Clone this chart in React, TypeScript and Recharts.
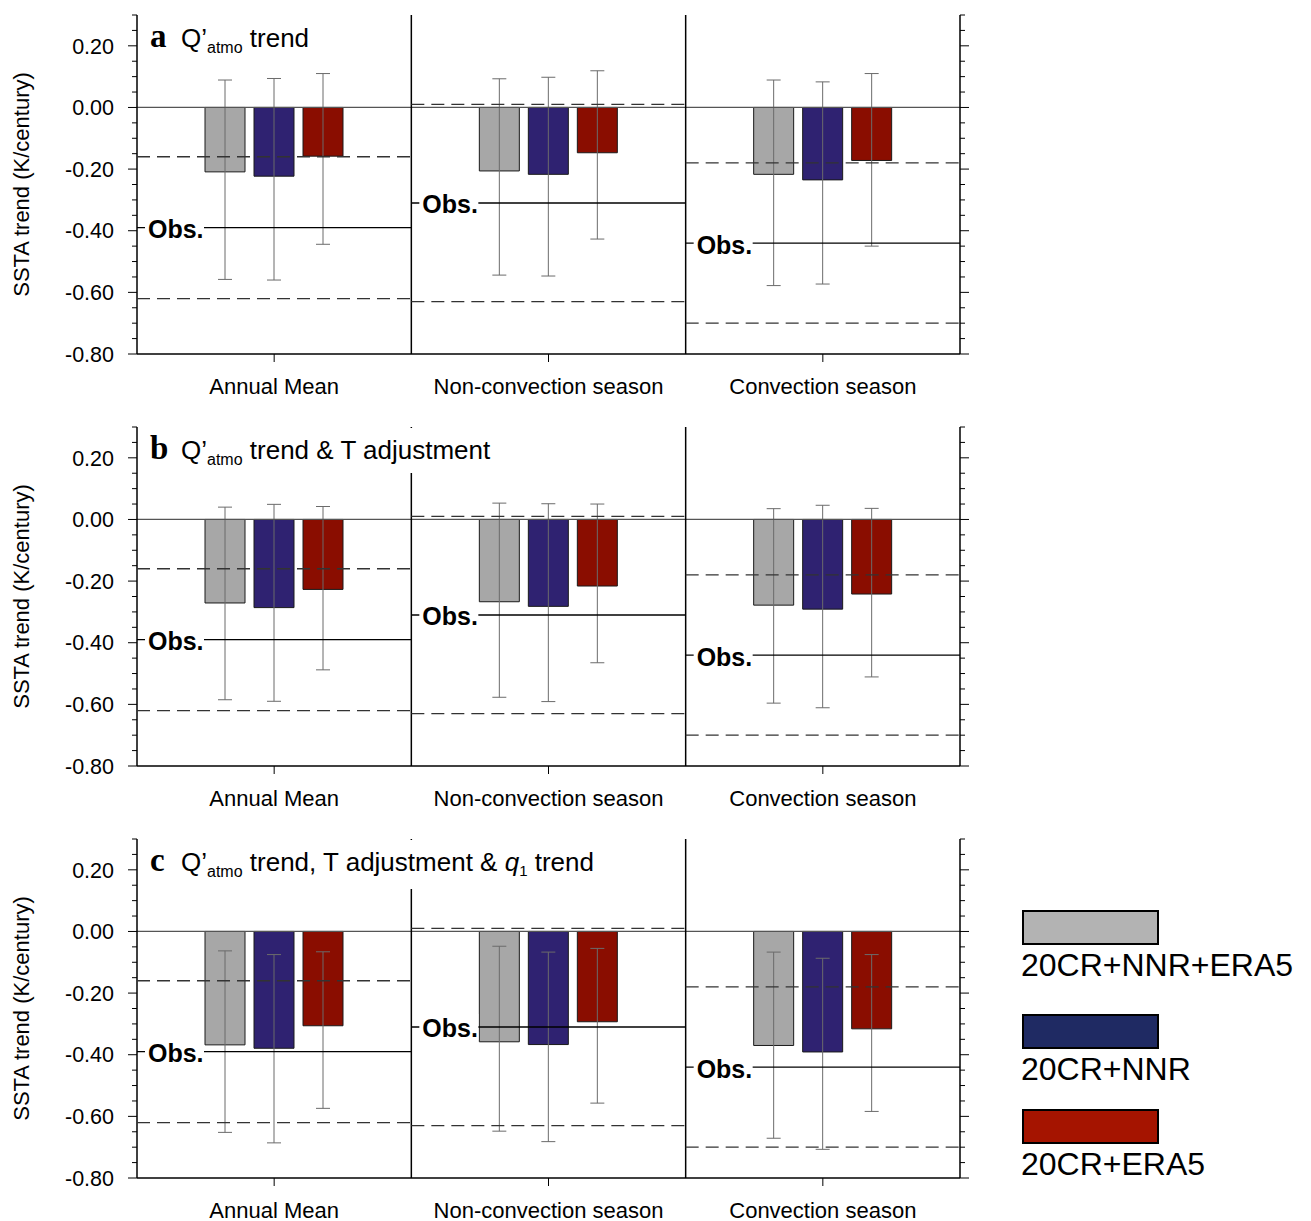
import React from 'react';
import { BarChart, Bar, XAxis, YAxis, ErrorBar, ReferenceLine, ReferenceArea } from 'recharts';

const FONT = '"Liberation Sans", Arial, Helvetica, sans-serif';
const SERIF = '"Liberation Serif", "Times New Roman", serif';

const categories = ['Annual Mean', 'Non-convection season', 'Convection season'];
const seriesNames = ['20CR+NNR+ERA5', '20CR+NNR', '20CR+ERA5'];
const barColors = ['#a7a7a7', '#2f2271', '#8a0d00'];
const legendColors = ['#b3b3b3', '#1f2a63', '#a51400'];

const yDomain: [number, number] = [-0.8, 0.3];
const majorTicks = [-0.8, -0.6, -0.4, -0.2, 0, 0.2];
const allTicks = [
  -0.8, -0.75, -0.7, -0.65, -0.6, -0.55, -0.5, -0.45, -0.4, -0.35, -0.3, -0.25,
  -0.2, -0.15, -0.1, -0.05, 0, 0.05, 0.1, 0.15, 0.2, 0.25, 0.3,
];

// Panel a: Q'atmo trend
const aAllMean = [-0.209, -0.206, -0.217];
const aAllHigh = [0.089, 0.093, 0.089];
const aAllLow = [-0.558, -0.544, -0.578];
const aNnrMean = [-0.223, -0.217, -0.235];
const aNnrHigh = [0.094, 0.098, 0.083];
const aNnrLow = [-0.56, -0.547, -0.573];
const aEraMean = [-0.158, -0.147, -0.172];
const aEraHigh = [0.11, 0.119, 0.11];
const aEraLow = [-0.444, -0.427, -0.45];

// Panel b: Q'atmo trend & T adjustment
const bAllMean = [-0.271, -0.267, -0.278];
const bAllHigh = [0.04, 0.053, 0.035];
const bAllLow = [-0.585, -0.577, -0.596];
const bNnrMean = [-0.286, -0.282, -0.291];
const bNnrHigh = [0.049, 0.051, 0.046];
const bNnrLow = [-0.59, -0.591, -0.611];
const bEraMean = [-0.227, -0.216, -0.242];
const bEraHigh = [0.042, 0.05, 0.036];
const bEraLow = [-0.488, -0.465, -0.511];

// Panel c: Q'atmo trend, T adjustment & q1 trend
const cAllMean = [-0.368, -0.358, -0.37];
const cAllHigh = [-0.063, -0.048, -0.067];
const cAllLow = [-0.652, -0.648, -0.671];
const cNnrMean = [-0.379, -0.367, -0.391];
const cNnrHigh = [-0.075, -0.067, -0.087];
const cNnrLow = [-0.686, -0.682, -0.707];
const cEraMean = [-0.306, -0.293, -0.316];
const cEraHigh = [-0.066, -0.055, -0.075];
const cEraLow = [-0.574, -0.557, -0.584];

// Observations (same in every panel)
const obsTrend = [-0.39, -0.31, -0.44];
const obsUpper = [-0.16, 0.01, -0.18];
const obsLower = [-0.62, -0.63, -0.7];

function buildRows(means: number[][], highs: number[][], lows: number[][]) {
  return categories.map((cat, i) => {
    const row: any = { cat };
    means.forEach((m, s) => {
      row['v' + s] = m[i];
      row['e' + s] = [m[i] - lows[s][i], highs[s][i] - m[i]];
    });
    return row;
  });
}

const rowsA = buildRows([aAllMean, aNnrMean, aEraMean], [aAllHigh, aNnrHigh, aEraHigh], [aAllLow, aNnrLow, aEraLow]);
const rowsB = buildRows([bAllMean, bNnrMean, bEraMean], [bAllHigh, bNnrHigh, bEraHigh], [bAllLow, bNnrLow, bEraLow]);
const rowsC = buildRows([cAllMean, cNnrMean, cEraMean], [cAllHigh, cNnrHigh, cEraHigh], [cAllLow, cNnrLow, cEraLow]);

const isMajor = (v: number) => majorTicks.some((m) => Math.abs(m - v) < 1e-6);
const fmt = (v: number) => (Math.abs(v) < 1e-9 ? '0.00' : v.toFixed(2));

const LeftTick = (props: any) => {
  const { x, y, payload } = props;
  const major = isMajor(payload.value);
  return (
    <g>
      <line x1={x - (major ? 9 : 5)} x2={x} y1={y} y2={y} stroke="#000" strokeWidth={1} />
      {major && (
        <text x={x - 23} y={y} dy="0.36em" textAnchor="end" fontSize={21.5} fontFamily={FONT} fill="#000">
          {fmt(payload.value)}
        </text>
      )}
    </g>
  );
};

const RightTick = (props: any) => {
  const { x, y, payload } = props;
  const major = isMajor(payload.value);
  return <line x1={x} x2={x + (major ? 9 : 5)} y1={y} y2={y} stroke="#000" strokeWidth={1} />;
};

// Horizontal dashed line spanning one category band
const DashedShape = (props: any) => {
  const { x, y, width } = props;
  return <line x1={x} x2={x + width} y1={y} y2={y} stroke="#333" strokeWidth={1.3} strokeDasharray="13 7" />;
};

// Solid observed-trend line spanning one band, with its "Obs." label
const ObsShape = (props: any) => {
  const { x, y, width } = props;
  return (
    <g>
      <line x1={x} x2={x + width} y1={y} y2={y} stroke="#000" strokeWidth={1.3} />
      <rect x={x + 8} y={y - 13} width={59} height={26} fill="#fff" />
      <text x={x + 11} y={y + 10.5} fontSize={25} fontWeight="bold" fontFamily={FONT} fill="#000">
        Obs.
      </text>
    </g>
  );
};

// Vertical separator at the left edge of a category band
const SepShape = (props: any) => {
  const { x, y, height } = props;
  return <line x1={x} x2={x} y1={y} y2={y + height} stroke="#000" strokeWidth={1.5} />;
};

const TOP_Z = 1500;

function Panel({ rows, top }: { rows: any[]; top: number }) {
  return (
    <div style={{ position: 'absolute', left: 0, top, width: 1000, height: 412 }}>
      <BarChart width={1000} height={412} data={rows} margin={{ top: 15, right: 0, bottom: 0, left: 0 }} barSize={40} barGap={9}>
        <XAxis
          xAxisId="bottom"
          dataKey="cat"
          orientation="bottom"
          height={58}
          interval={0}
          tickSize={8}
          tickMargin={16}
          axisLine={{ stroke: '#000', strokeWidth: 1.5 }}
          tickLine={{ stroke: '#000', strokeWidth: 1 }}
          tick={{ fill: '#000', fontSize: 22, fontFamily: FONT }}
        />
        <XAxis
          xAxisId="top"
          dataKey="cat"
          orientation="top"
          height={0}
          interval={0}
          tickSize={8}
          tick={false}
          axisLine={{ stroke: '#000', strokeWidth: 1.5 }}
          tickLine={{ stroke: '#000', strokeWidth: 1 }}
        />
        <YAxis
          yAxisId="left"
          orientation="left"
          width={137}
          domain={yDomain}
          allowDataOverflow
          ticks={allTicks}
          interval={0}
          tickSize={0}
          tickMargin={0}
          tickLine={false}
          axisLine={{ stroke: '#000', strokeWidth: 1.5 }}
          tick={LeftTick}
          label={{
            value: 'SSTA trend (K/century)',
            angle: -90,
            position: 'insideLeft',
            offset: 21,
            style: { textAnchor: 'middle', fontSize: 22, fontFamily: FONT, fill: '#000' },
          }}
        />
        <YAxis
          yAxisId="right"
          orientation="right"
          width={40}
          domain={yDomain}
          allowDataOverflow
          ticks={allTicks}
          interval={0}
          tickSize={0}
          tickMargin={0}
          tickLine={false}
          axisLine={{ stroke: '#000', strokeWidth: 1.5 }}
          tick={RightTick}
        />
        {seriesNames.map((name, s) => (
          <Bar
            key={name}
            name={name}
            dataKey={'v' + s}
            xAxisId="bottom"
            yAxisId="left"
            fill={barColors[s]}
            stroke="#1a1a1a"
            strokeWidth={1}
            isAnimationActive={false}
          >
            <ErrorBar dataKey={'e' + s} width={7} stroke="#6b6b6b" strokeWidth={1} direction="y" isAnimationActive={false} />
          </Bar>
        ))}
        <ReferenceLine xAxisId="bottom" yAxisId="left" y={0} stroke="#555" strokeWidth={1.2} />
        {categories.slice(1).map((c) => (
          <ReferenceArea
            key={'sep' + c}
            xAxisId="bottom"
            yAxisId="left"
            x1={c}
            x2={c}
            y1={yDomain[0]}
            y2={yDomain[1]}
            shape={SepShape}
            zIndex={TOP_Z}
          />
        ))}
        {categories.map((c, i) => (
          <ReferenceArea
            key={'up' + c}
            xAxisId="bottom"
            yAxisId="left"
            x1={c}
            x2={c}
            y1={obsUpper[i]}
            y2={obsUpper[i]}
            shape={DashedShape}
            zIndex={TOP_Z}
          />
        ))}
        {categories.map((c, i) => (
          <ReferenceArea
            key={'lo' + c}
            xAxisId="bottom"
            yAxisId="left"
            x1={c}
            x2={c}
            y1={obsLower[i]}
            y2={obsLower[i]}
            shape={DashedShape}
            zIndex={TOP_Z}
          />
        ))}
        {categories.map((c, i) => (
          <ReferenceArea
            key={'obs' + c}
            xAxisId="bottom"
            yAxisId="left"
            x1={c}
            x2={c}
            y1={obsTrend[i]}
            y2={obsTrend[i]}
            shape={ObsShape}
            zIndex={TOP_Z}
          />
        ))}
      </BarChart>
    </div>
  );
}

const panelTops = [0, 412, 824];

export default function App() {
  return (
    <div style={{ position: 'absolute', left: 0, top: 0, width: 1311, height: 1221, background: '#fff', fontFamily: FONT }}>
      <Panel rows={rowsA} top={panelTops[0]} />
      <Panel rows={rowsB} top={panelTops[1]} />
      <Panel rows={rowsC} top={panelTops[2]} />
      <svg width={1311} height={1221} style={{ position: 'absolute', left: 0, top: 0, pointerEvents: 'none' }}>
        <g transform={`translate(0, ${panelTops[0]})`}>
          <rect x={138} y={16} width={180} height={45} fill="#fff" />
          <text y={47} fontFamily={FONT} fontSize={26} fill="#000" style={{ whiteSpace: 'pre' }}>
            <tspan x={150} fontFamily={SERIF} fontWeight="bold" fontSize={33}>a</tspan>
            <tspan x={181}>Q’</tspan>
            <tspan fontSize={16} dy={6}>atmo</tspan>
            <tspan dy={-6}> trend</tspan>
          </text>
        </g>
        <g transform={`translate(0, ${panelTops[1]})`}>
          <rect x={138} y={16} width={362} height={45} fill="#fff" />
          <text y={47} fontFamily={FONT} fontSize={26} fill="#000" style={{ whiteSpace: 'pre' }}>
            <tspan x={150} fontFamily={SERIF} fontWeight="bold" fontSize={33}>b</tspan>
            <tspan x={181}>Q’</tspan>
            <tspan fontSize={16} dy={6}>atmo</tspan>
            <tspan dy={-6}> trend &amp; T adjustment</tspan>
          </text>
        </g>
        <g transform={`translate(0, ${panelTops[2]})`}>
          <rect x={138} y={16} width={467} height={49} fill="#fff" />
          <text y={47} fontFamily={FONT} fontSize={26} fill="#000" style={{ whiteSpace: 'pre' }}>
            <tspan x={150} fontFamily={SERIF} fontWeight="bold" fontSize={33}>c</tspan>
            <tspan x={181}>Q’</tspan>
            <tspan fontSize={16} dy={6}>atmo</tspan>
            <tspan dy={-6}> trend, T adjustment &amp; </tspan>
            <tspan fontStyle="italic">q</tspan>
            <tspan fontSize={15} dy={5}>1</tspan>
            <tspan dy={-5}> trend</tspan>
          </text>
        </g>
        {seriesNames.map((name, s) => (
          <g key={name} transform={`translate(0, ${[0, 104, 199][s]})`}>
            <rect x={1023} y={911} width={135} height={33} fill={legendColors[s]} stroke="#000" strokeWidth={2} />
            <text x={1021} y={976} fontSize={32} fontFamily={FONT} fill="#000">
              {name}
            </text>
          </g>
        ))}
      </svg>
    </div>
  );
}
